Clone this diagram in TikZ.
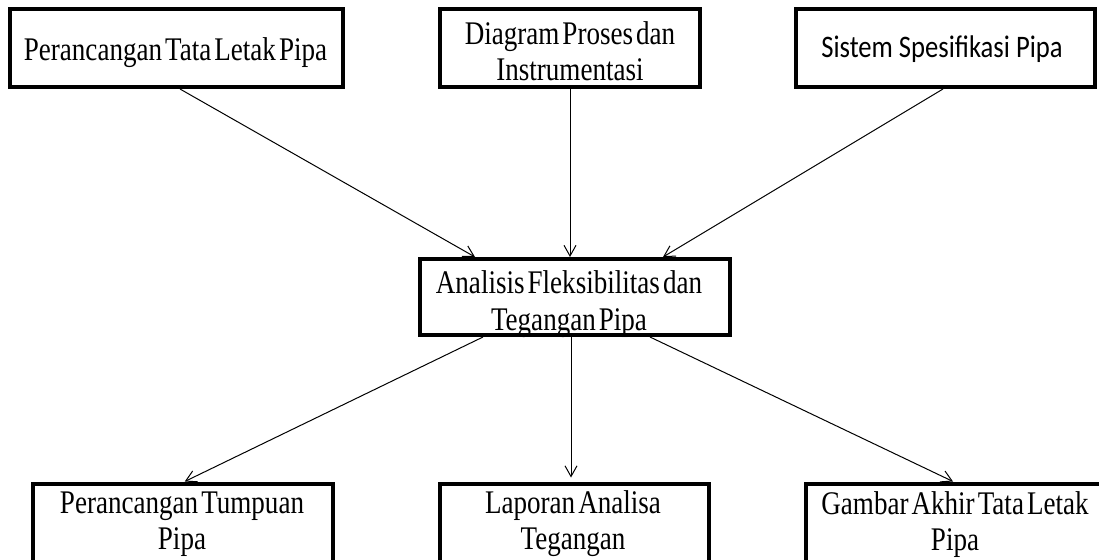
\documentclass[tikz,border=0pt]{standalone}
\usepackage{fontspec}
\usetikzlibrary{arrows.meta,calc}
\newfontfamily\tnrfont[FakeStretch=0.82,WordSpace=0.45]{Liberation Serif}
\newfontfamily\carfont[FakeStretch=0.85]{Carlito}
\begin{document}
\begin{tikzpicture}[x=0.75pt,y=-0.75pt,
  box/.style={draw,line width=3pt,inner sep=0pt,outer sep=1.5pt},
  txt/.style={inner sep=0pt,align=center,font=\tnrfont\fontsize{24.75}{27.4}\selectfont},
  txtc/.style={inner sep=0pt,align=center,font=\carfont\fontsize{23.5}{27}\selectfont},
  arr/.style={line width=0.75pt,-{Straight Barb[length=8pt,width=9pt]}}]
\clip (0,0) rectangle (1099,560);
\fill[white] (0,0) rectangle (1099,560);
% boxes
\node[box,minimum width=249.75pt,minimum height=58.5pt] (b1) at (176.5,48) {};
\node[box,minimum width=195pt,minimum height=58.5pt] (b2) at (570,48) {};
\node[box,minimum width=224.25pt,minimum height=58.5pt] (b3) at (945,48) {};
\node[box,minimum width=232.5pt,minimum height=57pt] (mid) at (575,297) {};
\node[box,minimum width=225.375pt,minimum height=117pt] (bl) at (182.75,561.5) {};
\node[box,minimum width=201.75pt,minimum height=117pt] (bm) at (574.5,561.5) {};
\node[box,minimum width=224.25pt,minimum height=117pt] (br) at (955.5,561.5) {};
% texts
\node[txt] (t1) at (175.5,52.3) {Perancangan Tata Letak Pipa};
\node[txt] (t2) at (570,51.3) {Diagram Proses dan\\Instrumentasi};
\node[txtc] (t3) at (942,49.3) {Sistem Spesifikasi Pipa};
\node[txt] (tm) at (569,304) {Analisis Fleksibilitas dan\\Tegangan Pipa};
\node[txt] (tbl) at (182,524.3) {Perancangan Tumpuan\\Pipa};
\node[txt] (tbm) at (573,523.5) {Laporan Analisa\\Tegangan};
\node[txt] (tbr) at (955,524.5) {Gambar Akhir Tata Letak\\Pipa};
% connectors
\draw[arr] ($(b1.south)+(3.5,0)$) -- ($(mid.north)+(-100,0)$);
\draw[arr] ($(b2.south)+(0,0)$) -- ($(mid.north)+(-5,0)$);
\draw[arr] ($(b3.south)+(-2,0)$) -- ($(mid.north)+(88,0)$);
\draw[arr] ($(mid.south)+(-92,0)$) -- ($(bl.north)+(2,0)$);
\draw[arr] ($(mid.south)+(-4,0)$) -- ($(bm.north)+(-3.5,-4)$);
\draw[arr] ($(mid.south)+(75,0)$) -- ($(br.north)+(-2.5,0)$);
\end{tikzpicture}
\end{document}
